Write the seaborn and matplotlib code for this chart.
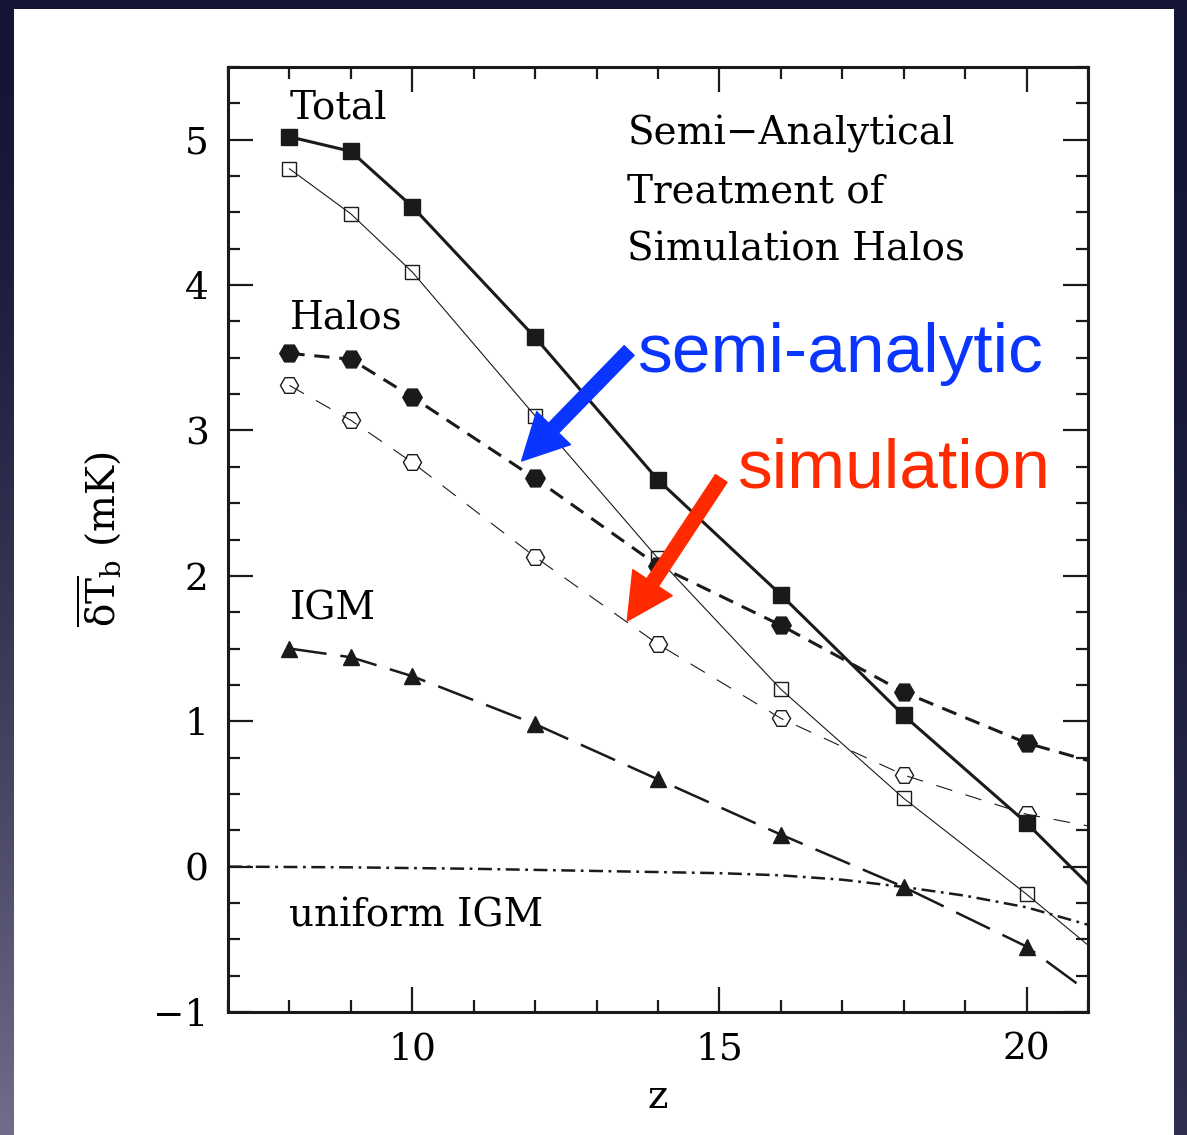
import matplotlib
matplotlib.use("Agg")
import matplotlib.pyplot as plt
import numpy as np
import seaborn as sns
from matplotlib.patches import Rectangle
from matplotlib.ticker import MultipleLocator

# Redshift samples; the last entry is where each line meets the right frame
z_points = [8, 9, 10, 12, 14, 16, 18, 20, 21]
total_semi = [5.02, 4.92, 4.54, 3.64, 2.66, 1.87, 1.04, 0.30, -0.12]
total_sim = [4.80, 4.49, 4.09, 3.10, 2.12, 1.22, 0.47, -0.19, -0.54]
halos_semi = [3.53, 3.49, 3.23, 2.67, 2.07, 1.66, 1.20, 0.85, 0.73]
halos_sim = [3.31, 3.07, 2.78, 2.13, 1.53, 1.02, 0.63, 0.36, 0.28]
igm = [1.50, 1.44, 1.31, 0.98, 0.60, 0.22, -0.14, -0.55, -0.86]

z_uniform = [7, 9, 11, 13, 15, 16, 17, 18, 19, 20, 21]
uniform_igm = [0.0, -0.005, -0.015, -0.03, -0.045, -0.06, -0.09, -0.14, -0.20, -0.28, -0.40]

text_labels = ["Total", "Halos", "IGM", "uniform IGM"]
text_z = [8.0, 8.0, 8.0, 8.0]
text_y = [5.145, 3.70, 1.70, -0.41]
note_lines = ["Semi\u2212Analytical", "Treatment of", "Simulation Halos"]


def main():
    sns.set_theme(style="ticks")
    plt.rcParams["font.family"] = ["DejaVu Serif", "DejaVu Sans"]
    plt.rcParams["mathtext.fontset"] = "dejavuserif"
    plt.rcParams["lines.scale_dashes"] = False
    for key in ["text.color", "axes.labelcolor", "xtick.color", "ytick.color"]:
        plt.rcParams[key] = "black"

    fig = plt.figure(figsize=(11.87, 11.35), dpi=100)

    # dark slide background with a white card
    bg = fig.add_axes([0, 0, 1, 1], zorder=-10)
    gy, gx = np.mgrid[0:1:200j, 0:1:200j]
    shade = np.clip((gy ** 1.6) * (1.0 - 0.7 * gx), 0, 1)
    dark = np.array([0.08, 0.08, 0.21])
    light = np.array([0.44, 0.43, 0.54])
    img = dark + shade[..., None] * (light - dark)
    bg.imshow(img, extent=[0, 1, 0, 1], aspect="auto", origin="upper")
    bg.add_patch(Rectangle((14 / 1187, 0), 1160 / 1187, 1 - 9 / 1135,
                           facecolor="white", edgecolor="none"))
    bg.set_xlim(0, 1)
    bg.set_ylim(0, 1)
    bg.axis("off")

    ax = fig.add_axes([228 / 1187, 1 - 1012 / 1135, 860 / 1187, 945 / 1135])
    ax.set_facecolor("white")

    marks = list(range(8))
    common = dict(ax=ax, color="k", markevery=marks, markeredgecolor="k")

    sns.lineplot(x=z_points, y=total_semi, lw=2.2, linestyle="-", marker="s",
                 markersize=11.5, markerfacecolor="k", markeredgewidth=1, **common)
    sns.lineplot(x=z_points, y=total_sim, lw=0.8, linestyle="-", marker="s",
                 markersize=10, markerfacecolor="none", markeredgewidth=1, **common)
    sns.lineplot(x=z_points, y=halos_semi, lw=2.2, linestyle=(0, (11, 7)), marker="H",
                 markersize=14, markerfacecolor="k", markeredgewidth=1, **common)
    sns.lineplot(x=z_points, y=halos_sim, lw=0.8, linestyle=(0, (12, 10)), marker="H",
                 markersize=13, markerfacecolor="none", markeredgewidth=1, **common)
    sns.lineplot(x=z_points, y=igm, lw=1.8, linestyle=(0, (27, 10)), marker="^",
                 markersize=11, markerfacecolor="k", markeredgewidth=1, **common)
    sns.lineplot(x=z_uniform, y=uniform_igm, ax=ax, color="k", lw=1.8,
                 linestyle=(0, (10, 4, 2, 4)))

    ax.set_xlim(7, 21)
    ax.set_ylim(-1, 5.5)
    ax.xaxis.set_major_locator(MultipleLocator(5))
    ax.xaxis.set_minor_locator(MultipleLocator(1))
    ax.yaxis.set_major_locator(MultipleLocator(1))
    ax.yaxis.set_minor_locator(MultipleLocator(0.25))
    ax.tick_params(which="both", direction="in", top=True, right=True,
                   width=1.6, color="k")
    ax.tick_params(which="major", length=18, labelsize=27, pad=14)
    ax.tick_params(which="minor", length=8.5)
    for sp in ax.spines.values():
        sp.set_linewidth(2.2)
        sp.set_color("k")

    ax.set_xlabel("z", fontsize=28, labelpad=8)
    ax.set_ylabel(r"$\overline{\mathrm{\delta T}}_{\rm b}$ (mK)", fontsize=28, labelpad=22)

    for lab, zx, yy in zip(text_labels, text_z, text_y):
        ax.text(zx, yy, lab, fontsize=28, ha="left", va="baseline")
    for i, line in enumerate(note_lines):
        ax.text(13.5, 4.97 - 0.40 * i, line, fontsize=28, ha="left", va="baseline")

    arrow_kw = dict(arrowstyle="simple,head_length=3.3,head_width=3.4,tail_width=1.0",
                    mutation_scale=10, shrinkA=0, shrinkB=0)
    ax.annotate("", xy=(11.78, 2.79), xytext=(13.53, 3.55),
                arrowprops=dict(color="#0a35ff", **arrow_kw))
    ax.annotate("", xy=(13.50, 1.69), xytext=(15.03, 2.67),
                arrowprops=dict(color="#ff2a00", **arrow_kw))
    ax.text(13.66, 3.40, "semi-analytic", color="#0a35ff", fontsize=50,
            family=["Liberation Sans", "DejaVu Sans"], ha="left", va="baseline")
    ax.text(15.29, 2.61, "simulation", color="#ff2a00", fontsize=50,
            family=["Liberation Sans", "DejaVu Sans"], ha="left", va="baseline")

    fig.savefig("out.png", dpi=100)


if __name__ == "__main__":
    main()
